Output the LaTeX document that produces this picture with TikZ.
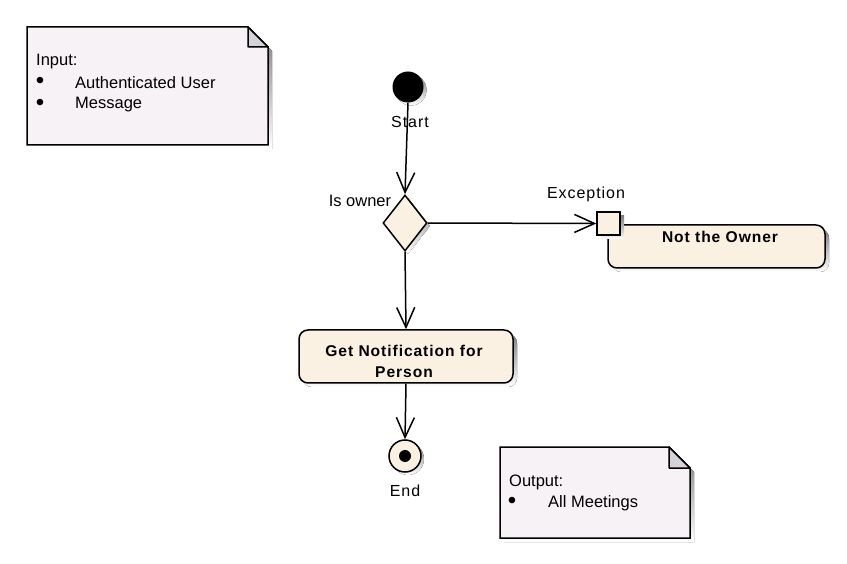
\documentclass[tikz,border=0pt]{standalone}
\usepackage{fontspec}
\setmainfont{Liberation Sans}
\newfontfamily\lblfont[LetterSpace=6]{Liberation Sans}
\usetikzlibrary{arrows.meta,shapes.geometric}
\definecolor{cream}{HTML}{FBF1E3}
\definecolor{notefill}{HTML}{F6F2F6}
\definecolor{foldfill}{HTML}{D6D2DA}
\definecolor{shade}{HTML}{C4C4C4}
\tikzset{
  flow/.style={line width=1.5pt, -{Straight Barb[length=20pt,width=18pt,line width=1.5pt]}},
  outline/.style={draw=black, line width=1.5pt},
  actbox/.style={outline, fill=cream, rounded corners=9pt, inner sep=0pt},
  txt/.style={font=\fontsize{16.5}{19}\selectfont, inner sep=0pt},
  bul/.style={font=\fontsize{24}{24}\selectfont, inner sep=0pt},
  btxt/.style={font=\fontsize{15.6}{21}\selectfont\bfseries\lblfont, inner sep=0pt},
  lbl/.style={font=\fontsize{16}{19}\selectfont\lblfont, inner sep=0pt},
}
\begin{document}
\begin{tikzpicture}[x=1pt,y=-1pt]
\useasboundingbox[fill=white] (0,0) rectangle (847,564);
% ---- Input note
\fill[shade] (31,31) -- (252,31) -- (272,51) -- (272,149) -- (31,149) -- cycle;
\draw[outline, fill=notefill] (27,27) -- (248,27) -- (268,47) -- (268,145) -- (27,145) -- cycle;
\draw[outline, fill=foldfill, line join=round] (248,27) -- (248,47) -- (268,47) -- cycle;
\node[txt, anchor=west] (inhead) at (36,62) {Input:};
\node[bul] (inb1) at (40,83) {\textbullet};
\node[txt, anchor=west] (in1) at (75,83) {Authenticated User};
\node[bul] (inb2) at (40,105) {\textbullet};
\node[txt, anchor=west] (in2) at (75,105) {Message};
% ---- Output note
\fill[shade] (504,451) -- (673,451) -- (694,472) -- (694,542) -- (504,542) -- cycle;
\draw[outline, fill=notefill] (500,447) -- (669,447) -- (690,468) -- (690,538) -- (500,538) -- cycle;
\draw[outline, fill=foldfill, line join=round] (669,447) -- (669,468) -- (690,468) -- cycle;
\node[txt, anchor=west] (outhead) at (509,482) {Output:};
\node[bul] (outb1) at (512,503) {\textbullet};
\node[txt, anchor=west] (out1) at (548,503) {All Meetings};
% ---- Start
\fill[shade] (411,90) circle (15.5);
\node[circle, fill=black, minimum size=31pt, inner sep=0pt] (start) at (408,87) {};
\node[lbl] (startlbl) at (410,122) {Start};
% ---- Decision
\fill[shade] (408,198) -- (430,226) -- (408,254) -- (386,226) -- cycle;
\node[diamond, outline, fill=cream, minimum width=44pt, minimum height=56pt, inner sep=0pt] (dec) at (405,223) {};
\node[txt] (declbl) at (360,201) {Is owner};
% ---- Not the Owner action
\fill[shade, rounded corners=9pt] (612,229) rectangle (829,272);
\node[actbox, minimum width=217pt, minimum height=43pt] (notowner) at (716.5,246.5) {};
\node[btxt] (notownertxt) at (720,237) {Not the Owner};
% ---- Exception pin
\fill[shade] (601,216) rectangle (624,239);
\node[rectangle, outline, fill=cream, minimum size=23pt, inner sep=0pt] (pin) at (608.5,223.5) {};
\node[lbl] (pinlbl) at (586,194) {Exception};
% ---- Get Notification action
\fill[shade, rounded corners=9pt] (303,334) rectangle (517,387);
\node[actbox, minimum width=214pt, minimum height=53pt] (getnot) at (406,356.5) {};
\node[btxt, align=center] (getnottxt) at (404,361.5) {Get Notification for\\Person};
% ---- End
\fill[shade] (408,459) circle (16);
\node[circle, outline, fill=cream, minimum size=32pt, inner sep=0pt] (end) at (405,456) {};
\node[circle, fill=black, minimum size=12pt, inner sep=0pt] (enddot) at (end.center) {};
\node[lbl] (endlbl) at (405,491) {End};
% ---- Flows
\draw[flow] (start.south) -- (dec.north);
\draw[flow] (dec.east) -- (pin.west);
\draw[flow] (dec.south) -- (getnot.north);
\draw[flow] (getnot.south) -- (end.north);
\end{tikzpicture}
\end{document}
